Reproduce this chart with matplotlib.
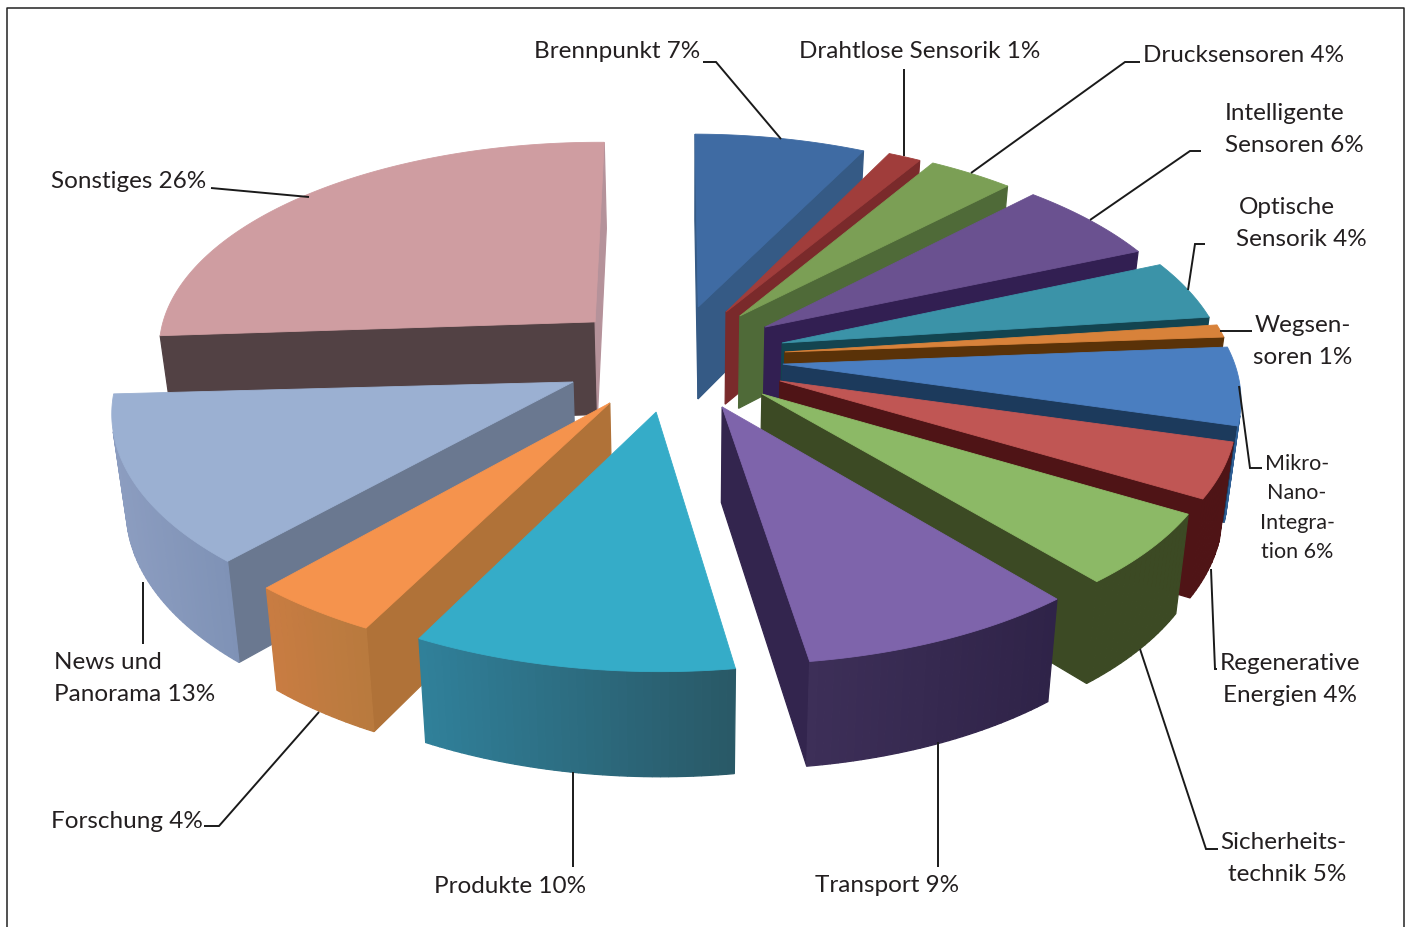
import numpy as np
import matplotlib
matplotlib.use('Agg')
import matplotlib.pyplot as plt
from matplotlib.colors import to_rgb

plt.rcParams['font.family'] = ['Lato', 'DejaVu Sans']

# share of each topic in percent, clockwise from 12 o'clock
names = ['Brennpunkt', 'Drahtlose Sensorik', 'Drucksensoren', 'Intelligente Sensoren',
         'Optische Sensorik', 'Wegsensoren', 'Mikro-Nano-Integration', 'Regenerative Energien',
         'Sicherheitstechnik', 'Transport', 'Produkte', 'Forschung', 'News und Panorama', 'Sonstiges']
values = [7, 1, 4, 6, 4, 1, 6, 4, 5, 9, 10, 4, 13, 26]

# where each pulled-out slice has its tip, and its radius (pie radius = 1)
tip_u = [0.062, 0.127, 0.159, 0.217, 0.256, 0.262, 0.257, 0.250, 0.210, 0.123, -0.021, -0.124, -0.210, -0.174]
tip_v = [0.264, 0.241, 0.222, 0.169, 0.093, 0.050, -0.008, -0.087, -0.148, -0.210, -0.238, -0.201, -0.108, 0.181]
radius = [0.973, 0.981, 0.985, 0.990, 0.998, 1.006, 1.014, 1.000, 1.003, 1.009, 1.011, 1.016, 1.017, 0.997]
# small corrections of the slice edges in degrees, the drawing is not quite true to the values
shift_start = [-1.5, -0.6, 0.7, -0.8, -0.2, 1.3, 0.6, -0.6, -0.1, 1.6, 0.5, 0.3, 0.7, -2.3]
shift_end = [-0.4, 0.8, -0.7, 0.0, 1.5, 1.1, -0.3, -0.1, 1.5, 0.6, 0.2, 0.3, -1.5, -1.3]

top_colors = ['#3f6ba3', '#a03d3b', '#7b9f55', '#6a5190', '#3b93a8', '#d8823a', '#4a7ec0',
              '#c05654', '#8cb966', '#7e64ab', '#35acc8', '#f5934d', '#9bb0d2', '#cf9da1']
wall_colors = ['#355a85', '#7a2a2b', '#4f6a38', '#321f52', '#134450', '#5a3208', '#1c3a5c',
               '#4f1416', '#3c4a24', '#33254e', '#2a6a80', '#b07238', '#6a7890', '#524144']
end_colors = ['#355a85', '#7a2a2b', '#4f6a38', '#321f52', '#134450', '#5a3208', '#1c3a5c',
              '#4f1416', '#3c4a24', '#33254e', '#2a6a80', '#b07238', '#6a7890', '#b5929a']
rim_left = ['#355a85', '#7a2a2b', '#4f6a38', '#321f52', '#134450', '#5a3208', '#2f5f95',
            '#4f1416', '#3c4a24', '#3d2f58', '#30809a', '#c87c42', '#8c9dc0', '#8e7a7e']
rim_right = ['#355a85', '#7a2a2b', '#4f6a38', '#321f52', '#134450', '#5a3208', '#2f5f95',
             '#4f1416', '#3c4a24', '#2f2348', '#295866', '#b87a3e', '#7f92b6', '#8e7a7e']

# label text with centre position, one entry per printed line
label_lines = [('Brennpunkt 7%', 617, 52), ('Drahtlose Sensorik 1%', 920, 52), ('Drucksensoren 4%', 1244, 56),
               ('Intelligente', 1285, 113), ('Sensoren 6%', 1294, 145), ('Optische', 1287, 208),
               ('Sensorik 4%', 1301, 239), ('Wegsen-', 1303, 326), ('soren 1%', 1303, 358),
               ('Regenerative', 1290, 664), ('Energien 4%', 1290, 696), ('Sicherheits-', 1283, 843),
               ('technik 5%', 1287, 875), ('Transport 9%', 887, 886), ('Produkte 10%', 510, 887),
               ('Forschung 4%', 127, 822), ('News und', 108, 663), ('Panorama 13%', 135, 695),
               ('Sonstiges 26%', 129, 182)]
small_lines = [('Mikro-', 1297, 464), ('Nano-', 1297, 493), ('Integra-', 1297, 523), ('tion 6%', 1297, 552)]

leaders = [[(703, 63), (716, 63), (781, 140)], [(904, 70), (904, 157)], [(1140, 63), (1125, 63), (971, 174)],
           [(1201, 152), (1190, 152), (1090, 221)], [(1205, 245), (1195, 245), (1188, 291)],
           [(1252, 332), (1220, 332)], [(1239, 387), (1250, 469), (1262, 469)],
           [(1211, 570), (1215, 670), (1217, 670)], [(1140, 650), (1206, 850), (1218, 850)],
           [(938, 743), (938, 868)], [(573, 773), (573, 868)], [(319, 713), (219, 827), (204, 827)],
           [(143, 583), (143, 645)], [(211, 189), (309, 198)]]

# plane of the pie to picture pixels
H = (440.228, -93.4688, 668.561, 5.43995, 166.676, 361.49, -0.00544727, -0.122605)


def project(u, v):
    a, b, c, d, e, f, g, h = H
    w = g * u + h * v + 1
    return np.column_stack(((a * u + b * v + c) / w, (d * u + e * v + f) / w))


def drop(pts):
    # lower edge of the slab for points on the top face
    x = 690 + (pts[:, 0] - 690) * 0.975
    y = pts[:, 1] + 92 + 0.036 * (pts[:, 1] - 308)
    return np.column_stack((x, y))


def area(p):
    return 0.5 * np.sum(p[:, 0] * np.roll(p[:, 1], -1) - np.roll(p[:, 0], -1) * p[:, 1])


def draw_wall(ax, a, b, color, sign):
    # a -> b is an edge of the top face, only draw it if it faces us
    a2, b2 = drop(np.array([a]))[0], drop(np.array([b]))[0]
    cross = (b[0] - a[0]) * (a2[1] - a[1]) - (b[1] - a[1]) * (a2[0] - a[0])
    cross2 = (b[0] - a[0]) * (b2[1] - b[1]) - (b[1] - a[1]) * (b2[0] - b[0])
    if (cross + cross2) * sign > 0:
        return
    ax.fill([a[0], b[0], b2[0], a2[0]], [a[1], b[1], b2[1], a2[1]], fc=color, ec=color, lw=0.9)


fig = plt.figure(figsize=(14.09, 9.28), dpi=100)
ax = fig.add_axes([0, 0, 1, 1])
ax.set_xlim(0, 1409)
ax.set_ylim(928, 0)
ax.axis('off')

cum = np.cumsum([0] + values) / sum(values) * 360
slices = []
for i in range(len(values)):
    t = np.radians(np.linspace(cum[i] + shift_start[i], cum[i + 1] + shift_end[i], max(6, int(values[i] * 4))))
    tip = project(np.array([tip_u[i]]), np.array([-tip_v[i]]))
    rim = project(tip_u[i] + radius[i] * np.sin(t), -(tip_v[i] + radius[i] * np.cos(t)))
    slices.append((rim[:, 1].mean() * 0.5 + tip[0, 1] * 0.5, i, tip[0], rim))

# far slices first, near ones cover their walls
for _, i, tip, rim in sorted(slices, key=lambda s: s[0]):
    poly = np.vstack(([tip], rim))
    sign = np.sign(area(poly))
    draw_wall(ax, tip, rim[0], wall_colors[i], sign)
    draw_wall(ax, rim[-1], tip, end_colors[i], sign)
    c0, c1 = np.array(to_rgb(rim_left[i])), np.array(to_rgb(rim_right[i]))
    xs = rim[:, 0]
    for k in range(len(rim) - 1):
        f = (0.5 * (xs[k] + xs[k + 1]) - xs.min()) / (xs.max() - xs.min())
        draw_wall(ax, rim[k], rim[k + 1], tuple(c0 + (c1 - c0) * f), sign)
    ax.fill(poly[:, 0], poly[:, 1], fc=top_colors[i], ec=top_colors[i], lw=0.6)

for line in leaders:
    ax.plot(*zip(*line), color='#1a1a1a', lw=1.4, solid_capstyle='butt', solid_joinstyle='miter')

for text, x, y in label_lines:
    ax.text(x, y, text, ha='center', va='center', fontsize=17.5, color='#231f20')
for text, x, y in small_lines:
    ax.text(x, y, text, ha='center', va='center', fontsize=15.5, color='#231f20')

# page frame, open at the bottom
ax.plot([7, 7, 1404, 1404], [928, 9, 9, 928], color='#222222', lw=1.1)

fig.savefig('out.png', dpi=100)
